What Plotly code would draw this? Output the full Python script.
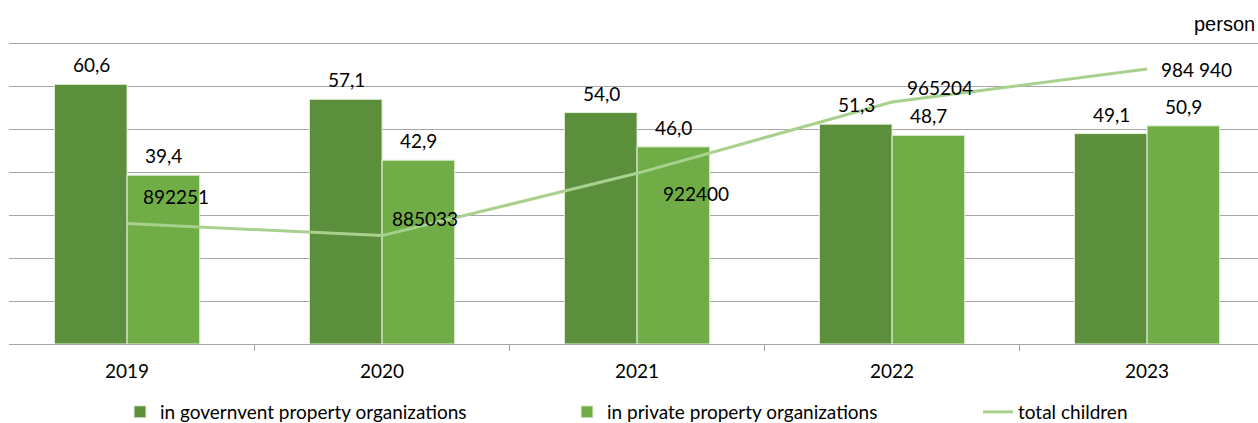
import plotly.graph_objects as go

years = ["2019", "2020", "2021", "2022", "2023"]
gov_share = [60.6, 57.1, 54.0, 51.3, 49.1]
private_share = [39.4, 42.9, 46.0, 48.7, 50.9]
total_children = [892251, 885033, 922400, 965204, 984940]
total_labels = ["892251", "885033", "922400", "965204", "984 940"]

gov_labels = [f"{v:.1f}".replace(".", ",") for v in gov_share]
priv_labels = [f"{v:.1f}".replace(".", ",") for v in private_share]

# manual label offsets (px) for the line labels, as placed in the reference
line_label_dx = [49, 43, 59, 48, 49]
line_label_dy = [27, 17, -20, 14, 0]

DARK = "#5B8F3B"
LIGHT = "#70AD47"
LINE = "#A9D18E"
FONT = "Lato"
FS = 19

fig = go.Figure()
fig.add_trace(go.Bar(
    x=years, y=gov_share, name="in governvent property organizations",
    marker=dict(color=DARK, line=dict(color="#E8F0E0", width=1)),
    legend="legend",
))
fig.add_trace(go.Bar(
    x=years, y=private_share, name="in private property organizations",
    marker=dict(color=LIGHT, line=dict(color="#E8F0E0", width=1)),
    legend="legend2",
))
fig.add_trace(go.Scatter(
    x=years, y=total_children, name="total children", mode="lines",
    line=dict(color=LINE, width=3), yaxis="y2",
    legend="legend3",
))

annotations = []
for i, yr in enumerate(years):
    annotations.append(dict(x=i, y=gov_share[i], text=gov_labels[i], xref="x", yref="y",
                            showarrow=False, xshift=-36, yshift=6, yanchor="bottom",
                            font=dict(family=FONT, size=FS, color="#000")))
    annotations.append(dict(x=i, y=private_share[i], text=priv_labels[i], xref="x", yref="y",
                            showarrow=False, xshift=36, yshift=6, yanchor="bottom",
                            font=dict(family=FONT, size=FS, color="#000")))
    annotations.append(dict(x=i, y=total_children[i], text=total_labels[i], xref="x", yref="y2",
                            showarrow=False, xshift=line_label_dx[i], yshift=line_label_dy[i],
                            xanchor="center", yanchor="middle",
                            font=dict(family=FONT, size=FS, color="#000")))
annotations.append(dict(x=1, y=1, xref="paper", yref="paper", text="person", showarrow=False,
                        xanchor="right", yanchor="bottom", yshift=7, xshift=-1,
                        font=dict(family="Liberation Sans", size=20, color="#000")))

legend_common = dict(orientation="h", yref="container", yanchor="middle", y=11 / 423,
                     xanchor="left",
                     font=dict(family=FONT, size=FS, color="#000"),
                     bgcolor="rgba(0,0,0,0)", borderwidth=0)

fig.update_layout(
    width=1258, height=423,
    margin=dict(l=9, r=0, t=44, b=79, autoexpand=False),
    paper_bgcolor="white", plot_bgcolor="white",
    barmode="group", bargap=0.43, bargroupgap=0,
    font=dict(family=FONT, size=FS, color="#000"),
    xaxis=dict(type="category", range=[-0.463, 4.435], showgrid=False,
               showline=True, mirror=True, linecolor="#A6A6A6", linewidth=1,
               ticks="outside", tickson="boundaries", ticklen=6, tickcolor="#A6A6A6",
               ticklabelstandoff=10, tickfont=dict(family=FONT, size=FS, color="#000"),
               fixedrange=True),
    yaxis=dict(range=[0, 70], dtick=10, showgrid=True, gridcolor="#A6A6A6", gridwidth=1,
               showticklabels=False, zeroline=False, showline=False, ticks=""),
    yaxis2=dict(range=[820000, 1000000], overlaying="y", side="right", showgrid=False,
                showticklabels=False, zeroline=False, showline=False),
    legend=dict(x=(160 - 40 - 9) / 1249, **legend_common),
    legend2=dict(x=(607 - 40 - 9) / 1249, **legend_common),
    legend3=dict(x=(1018 - 40 - 9) / 1249, **legend_common),
    annotations=annotations,
    showlegend=True,
)

fig.write_html("out.html", config={"displayModeBar": False},
               post_script="document.body.style.margin='0';")
